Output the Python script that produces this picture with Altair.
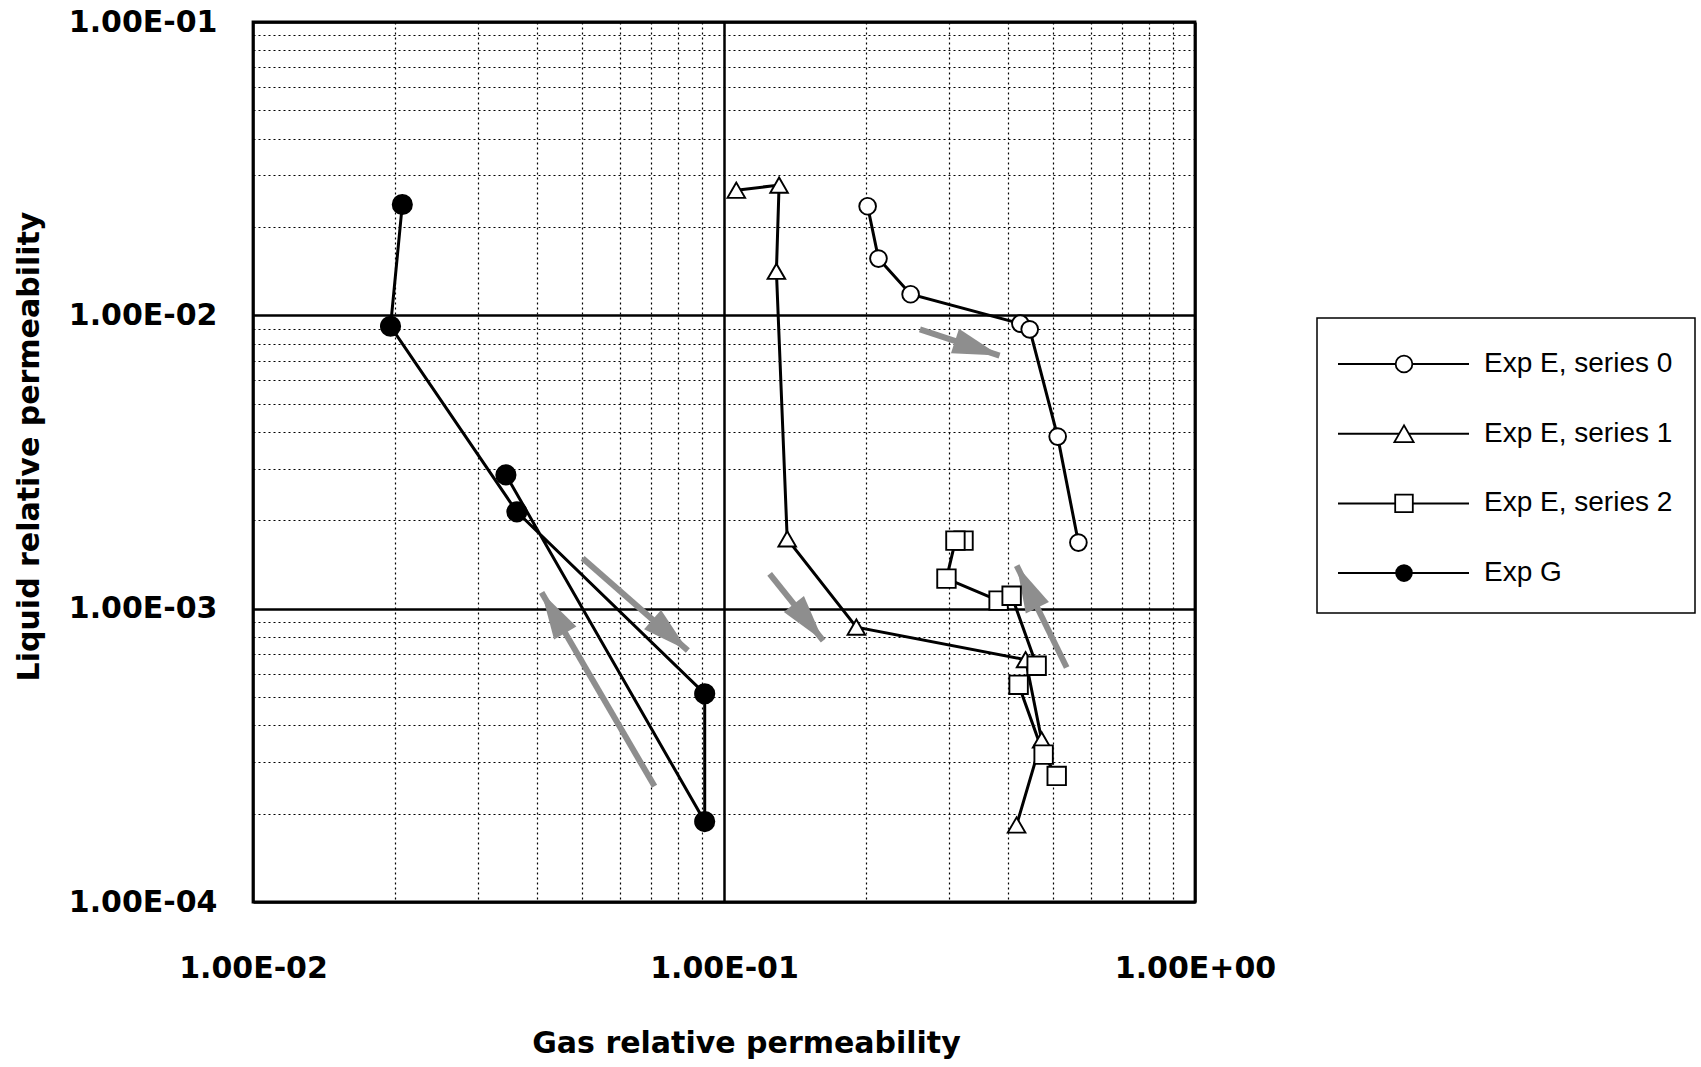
import math
import altair as alt
import pandas as pd

# ---------------- data ----------------
names = ["Exp E, series 0", "Exp E, series 1", "Exp E, series 2", "Exp G"]

s0_x = [0.2018, 0.2128, 0.249, 0.4258, 0.4457, 0.511, 0.5655]
s0_y = [0.02355, 0.01561, 0.0118, 0.00937, 0.00896, 0.00386, 0.00168]

s1_x = [0.1062, 0.1309, 0.1292, 0.1362, 0.191, 0.4369, 0.4725, 0.418]
s1_y = [0.0267, 0.0278, 0.01413, 0.00173, 0.000865, 0.00067, 0.000357, 0.000183]

s2_x = [0.3225, 0.310, 0.2967, 0.3828, 0.408, 0.4611, 0.4222, 0.4771, 0.5086]
s2_y = [0.001706, 0.001706, 0.001266, 0.001065, 0.001107, 0.000639, 0.00055, 0.000318, 0.000269]

g_x = [0.02075, 0.01959, 0.03633, 0.0910, 0.0910, 0.03443]
g_y = [0.02388, 0.00918, 0.002138, 0.000513, 0.000188, 0.002858]

# direction arrows (tail -> head)
arrow_x_tail = [0.2606, 0.125, 0.534, 0.0501, 0.0712]
arrow_y_tail = [0.00895, 0.001315, 0.00063, 0.001485, 0.000248]
arrow_x_head = [0.3846, 0.1624, 0.4183, 0.0838, 0.0410]
arrow_y_head = [0.00729, 0.000778, 0.001402, 0.00072, 0.001135]

x_ticks = [round(k * 10.0 ** e, 6) for e in (-2, -1) for k in range(1, 10)] + [1.0]
y_ticks = [round(k * 10.0 ** e, 8) for e in (-4, -3, -2) for k in range(1, 10)] + [0.1]

x_title = "Gas relative permeability"
y_title = "Liquid relative permeability"

# ---------------- tables ----------------
rows = []
for name, xs, ys in zip(names, [s0_x, s1_x, s2_x, g_x], [s0_y, s1_y, s2_y, g_y]):
    for i, (xv, yv) in enumerate(zip(xs, ys)):
        rows.append({"series": name, "order": i, "x": xv, "y": yv})
df = pd.DataFrame(rows)

W, H = 942, 880
PX_X = W / 2.0   # pixels per decade
PX_Y = H / 3.0

arrows = pd.DataFrame({
    "xt": arrow_x_tail, "yt": arrow_y_tail,
    "xh": arrow_x_head, "yh": arrow_y_head,
})
def _angle(r):
    dx = (math.log10(r.xh) - math.log10(r.xt)) * PX_X
    dy = -(math.log10(r.yh) - math.log10(r.yt)) * PX_Y
    return math.degrees(math.atan2(dx, -dy)) % 360
arrows["angle"] = arrows.apply(_angle, axis=1)

# ---------------- axes ----------------
major = "abs(log(datum.value)/LN10 - round(log(datum.value)/LN10)) < 0.01"
expo = "round(log(datum.value)/LN10)"
label_expr = f"{major} ? ('1.00E' + ({expo} < 0 ? '-' : '+') + '0' + abs({expo})) : ''"

def make_axis(values, **kw):
    return alt.Axis(
        values=values, labelExpr=label_expr, grid=True, gridColor="black",
        gridDash={"condition": {"test": major, "value": []}, "value": [2, 3]},
        gridWidth={"condition": {"test": major, "value": 2.5}, "value": 1.2},
        gridOpacity=1,
        domain=False, ticks=False,
        labelFont="DejaVu Sans", labelFontWeight="bold", labelFontSize=30,
        labelColor="black", labelOverlap=False, labelFlush=False,
        titleFont="DejaVu Sans", titleFontWeight="bold", titleFontSize=30,
        titleColor="black", **kw)

x_axis = make_axis(x_ticks, labelPadding=51, titlePadding=45, titleX=493)
y_axis = make_axis(y_ticks, labelPadding=36, titlePadding=24, titleY=424)

x_scale = alt.Scale(type="log", domain=[0.01, 1], nice=False)
y_scale = alt.Scale(type="log", domain=[1e-4, 0.1], nice=False)

base = alt.Chart(df).encode(
    x=alt.X("x:Q", scale=x_scale, axis=x_axis, title=x_title),
    y=alt.Y("y:Q", scale=y_scale, axis=y_axis, title=y_title),
)

lines = base.mark_line(color="black", strokeWidth=3).encode(
    detail="series:N", order="order:Q")

shape_range = ["circle", "triangle-up", "square", "circle"]
fill_range = ["white", "white", "white", "black"]
size_range = [280, 370, 310, 250]

points = base.mark_point(filled=True, stroke="black", strokeWidth=1.9,
                         opacity=1, fillOpacity=1).encode(
    shape=alt.Shape("series:N", scale=alt.Scale(domain=names, range=shape_range), legend=None),
    fill=alt.Fill("series:N", scale=alt.Scale(domain=names, range=fill_range), legend=None),
    size=alt.Size("series:N", scale=alt.Scale(domain=names, range=size_range), legend=None),
)

ARROW_GREY = "#8e8e8e"
shafts = alt.Chart(arrows).mark_rule(color=ARROW_GREY, strokeWidth=6, strokeCap="butt").encode(
    x=alt.X("xt:Q", scale=x_scale), y=alt.Y("yt:Q", scale=y_scale),
    x2="xh:Q", y2="yh:Q")
head_path = "M0,0 L0.55,2 L-0.55,2 Z"
heads = alt.Chart(arrows).mark_point(shape=head_path, filled=True, color=ARROW_GREY,
                                     size=2200, opacity=1).encode(
    x=alt.X("xh:Q", scale=x_scale), y=alt.Y("yh:Q", scale=y_scale),
    angle=alt.Angle("angle:Q", scale=None))

# ---------------- legend (drawn box) ----------------
LX0, LX1, LY0, LY1 = 1064, 1442, 296, 591
legend_layers = [
    alt.Chart(pd.DataFrame({"a": [0]})).mark_rect(fill="white", stroke="black", strokeWidth=1.5).encode(
        x=alt.value(LX0), x2=alt.value(LX1), y=alt.value(LY0), y2=alt.value(LY1))
]
for i, name in enumerate(names):
    yy = 342 + 69.7 * i
    ldf = pd.DataFrame({"name": [name]})
    lc = alt.Chart(ldf)
    legend_layers.append(lc.mark_rule(color="black", strokeWidth=2).encode(
        x=alt.value(1085), x2=alt.value(1216), y=alt.value(yy)))
    legend_layers.append(lc.mark_point(shape=shape_range[i], filled=True, fill=fill_range[i],
                                       stroke="black", strokeWidth=1.8, size=size_range[i],
                                       opacity=1).encode(
        x=alt.value(1151), y=alt.value(yy)))
    legend_layers.append(lc.mark_text(align="left", baseline="middle", font="Liberation Sans",
                                      fontSize=28, color="black").encode(
        x=alt.value(1231), y=alt.value(yy), text="name:N"))

chart = alt.layer(shafts, heads, lines, points, *legend_layers).properties(
    width=W, height=H,
    padding={"left": 14, "top": 7, "right": 5, "bottom": 5},
    background="white",
).configure_view(stroke="black", strokeWidth=2.8)

chart.save("out.html", embed_options={"renderer": "svg", "actions": False})
